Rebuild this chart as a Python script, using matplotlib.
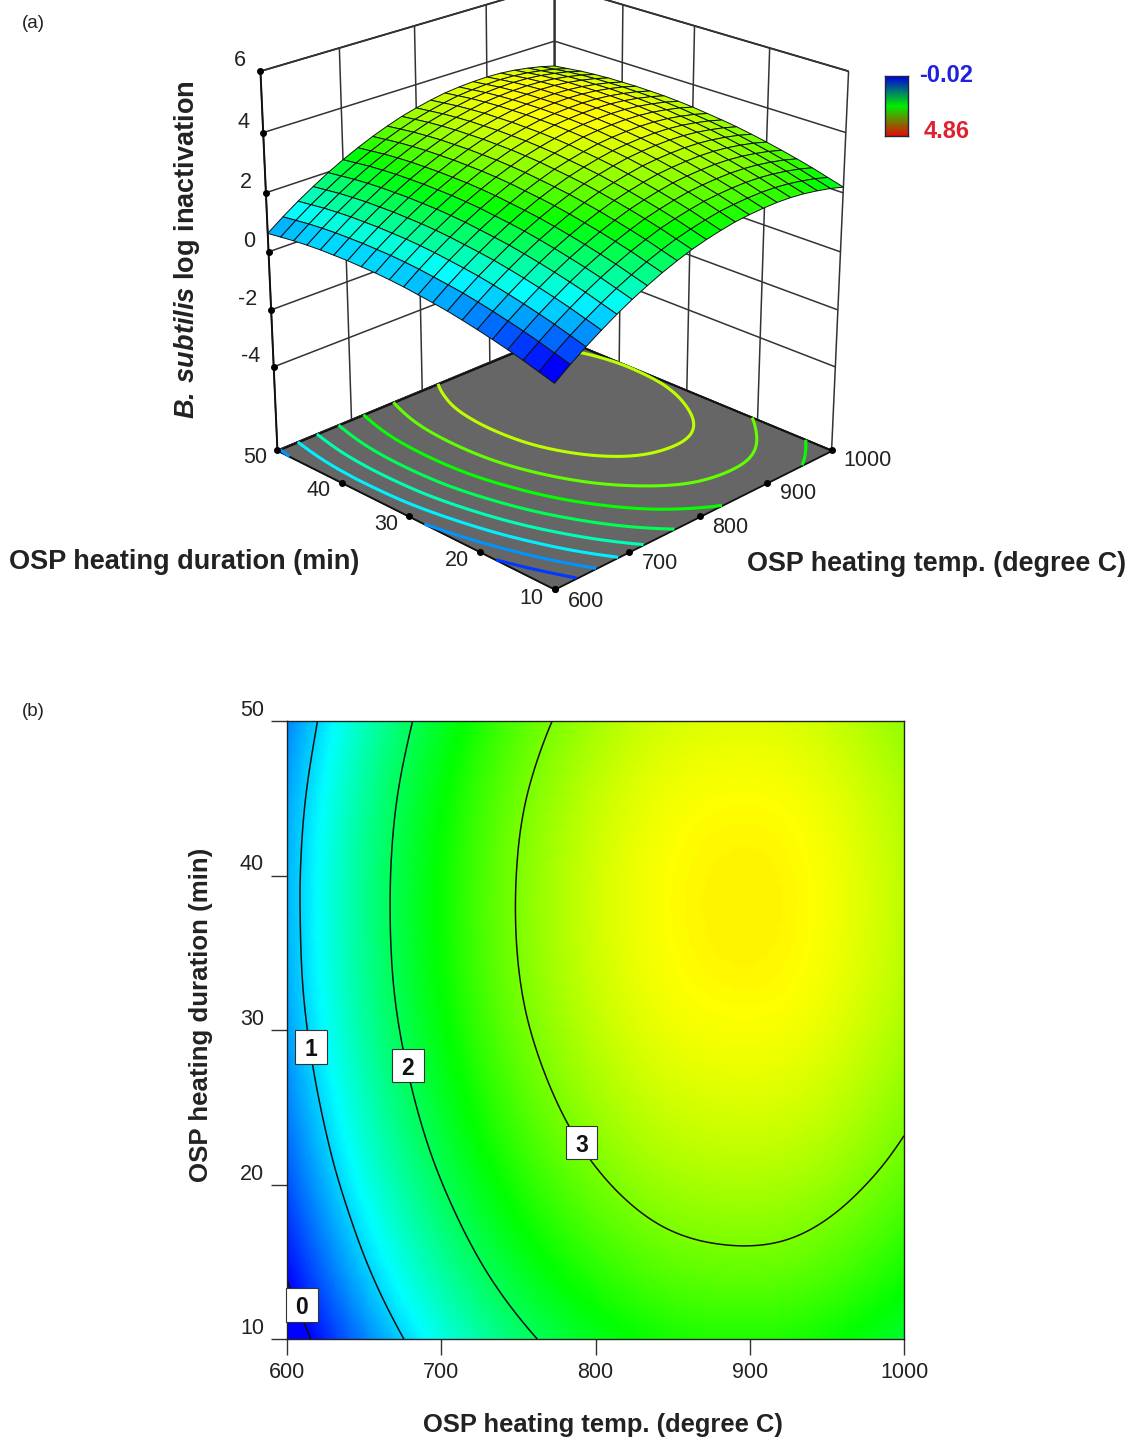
import numpy as np
import matplotlib
matplotlib.use("Agg")
import matplotlib.pyplot as plt
import matplotlib.tri as mtri
from matplotlib.colors import LinearSegmentedColormap, Normalize
from matplotlib.patches import Rectangle
from mpl_toolkits.mplot3d.art3d import Poly3DCollection

plt.rcParams['font.family'] = ['Liberation Sans', 'DejaVu Sans']
plt.rcParams['mathtext.fontset'] = 'custom'
plt.rcParams['mathtext.bfit'] = 'Liberation Sans:italic:bold'

temps = [600, 620, 640, 660, 680, 700, 720, 740, 760, 780, 800, 820, 840, 860, 880, 900, 920, 940, 960, 980, 1000]
durations = [10, 12, 14, 16, 18, 20, 22, 24, 26, 28, 30, 32, 34, 36, 38, 40, 42, 44, 46, 48, 50]
log_inactivation = [
    [-.29, .09, .44, .76, 1.06, 1.33, 1.57, 1.79, 1.98, 2.15, 2.28, 2.39, 2.48, 2.53, 2.56, 2.57, 2.55, 2.50, 2.42, 2.32, 2.19],
    [-.14, .24, .59, .91, 1.21, 1.48, 1.72, 1.94, 2.13, 2.30, 2.43, 2.54, 2.63, 2.68, 2.71, 2.72, 2.70, 2.65, 2.57, 2.47, 2.34],
    [.01, .39, .74, 1.06, 1.36, 1.63, 1.87, 2.09, 2.28, 2.45, 2.58, 2.69, 2.78, 2.83, 2.86, 2.87, 2.85, 2.80, 2.72, 2.62, 2.49],
    [.14, .52, .87, 1.19, 1.49, 1.76, 2.00, 2.22, 2.41, 2.58, 2.71, 2.82, 2.91, 2.96, 2.99, 3.00, 2.98, 2.93, 2.85, 2.75, 2.62],
    [.26, .64, .99, 1.31, 1.61, 1.88, 2.12, 2.34, 2.53, 2.70, 2.83, 2.94, 3.03, 3.08, 3.11, 3.12, 3.10, 3.05, 2.97, 2.87, 2.74],
    [.37, .75, 1.10, 1.42, 1.72, 1.99, 2.23, 2.45, 2.64, 2.81, 2.94, 3.05, 3.14, 3.19, 3.22, 3.23, 3.21, 3.16, 3.08, 2.98, 2.85],
    [.47, .85, 1.20, 1.52, 1.82, 2.09, 2.33, 2.55, 2.74, 2.91, 3.04, 3.15, 3.24, 3.29, 3.32, 3.33, 3.31, 3.26, 3.18, 3.08, 2.95],
    [.56, .94, 1.29, 1.61, 1.91, 2.18, 2.42, 2.64, 2.83, 3.00, 3.13, 3.24, 3.33, 3.38, 3.41, 3.42, 3.40, 3.35, 3.27, 3.17, 3.04],
    [.63, 1.01, 1.36, 1.68, 1.98, 2.25, 2.49, 2.71, 2.90, 3.07, 3.20, 3.31, 3.40, 3.45, 3.48, 3.49, 3.47, 3.42, 3.34, 3.24, 3.11],
    [.69, 1.07, 1.42, 1.74, 2.04, 2.31, 2.55, 2.77, 2.96, 3.13, 3.26, 3.37, 3.46, 3.51, 3.54, 3.55, 3.53, 3.48, 3.40, 3.30, 3.17],
    [.75, 1.13, 1.48, 1.80, 2.10, 2.37, 2.61, 2.83, 3.02, 3.19, 3.32, 3.43, 3.52, 3.57, 3.60, 3.61, 3.59, 3.54, 3.46, 3.36, 3.23],
    [.79, 1.17, 1.52, 1.84, 2.14, 2.41, 2.65, 2.87, 3.06, 3.23, 3.36, 3.47, 3.56, 3.61, 3.64, 3.65, 3.63, 3.58, 3.50, 3.40, 3.27],
    [.82, 1.20, 1.55, 1.87, 2.17, 2.44, 2.68, 2.90, 3.09, 3.26, 3.39, 3.50, 3.59, 3.64, 3.67, 3.68, 3.66, 3.61, 3.53, 3.43, 3.30],
    [.83, 1.21, 1.56, 1.88, 2.18, 2.45, 2.69, 2.91, 3.10, 3.27, 3.40, 3.51, 3.60, 3.65, 3.68, 3.69, 3.67, 3.62, 3.54, 3.44, 3.31],
    [.84, 1.22, 1.57, 1.89, 2.19, 2.46, 2.70, 2.92, 3.11, 3.28, 3.41, 3.52, 3.61, 3.66, 3.69, 3.70, 3.68, 3.63, 3.55, 3.45, 3.32],
    [.83, 1.21, 1.56, 1.88, 2.18, 2.45, 2.69, 2.91, 3.10, 3.27, 3.40, 3.51, 3.60, 3.65, 3.68, 3.69, 3.67, 3.62, 3.54, 3.44, 3.31],
    [.82, 1.20, 1.55, 1.87, 2.17, 2.44, 2.68, 2.90, 3.09, 3.26, 3.39, 3.50, 3.59, 3.64, 3.67, 3.68, 3.66, 3.61, 3.53, 3.43, 3.30],
    [.79, 1.17, 1.52, 1.84, 2.14, 2.41, 2.65, 2.87, 3.06, 3.23, 3.36, 3.47, 3.56, 3.61, 3.64, 3.65, 3.63, 3.58, 3.50, 3.40, 3.27],
    [.75, 1.13, 1.48, 1.80, 2.10, 2.37, 2.61, 2.83, 3.02, 3.19, 3.32, 3.43, 3.52, 3.57, 3.60, 3.61, 3.59, 3.54, 3.46, 3.36, 3.23],
    [.69, 1.07, 1.42, 1.74, 2.04, 2.31, 2.55, 2.77, 2.96, 3.13, 3.26, 3.37, 3.46, 3.51, 3.54, 3.55, 3.53, 3.48, 3.40, 3.30, 3.17],
    [.63, 1.01, 1.36, 1.68, 1.98, 2.25, 2.49, 2.71, 2.90, 3.07, 3.20, 3.31, 3.40, 3.45, 3.48, 3.49, 3.47, 3.42, 3.34, 3.24, 3.11],
]
temp_ticks = [600, 700, 800, 900, 1000]
duration_ticks = [10, 20, 30, 40, 50]
z_ticks = [-4, -2, 0, 2, 4, 6]
floor_levels = [0.25, 0.69, 1.13, 1.57, 2.01, 2.45, 2.89, 3.33]
contour_levels = [0, 1, 2, 3]
label_values = ['0', '1', '2', '3']
label_temps = [609.7, 615.6, 678.4, 791]
label_durations = [12.2, 28.9, 27.7, 22.7]
scale_min, scale_max = -0.02, 4.86

W, H = 1134, 1437
fig = plt.figure(figsize=(W / 100, H / 100), dpi=100)
cmap = LinearSegmentedColormap.from_list('de', ['#0000ff', '#00ffff', '#00ff00', '#ffff00', '#ff0000'])
norm = Normalize(scale_min, scale_max)
T, D = np.meshgrid(temps, durations)
Z = np.array(log_inactivation)
tri_grid = mtri.Triangulation(T[::2, ::2].ravel().astype(float), D[::2, ::2].ravel().astype(float))
fine_tri, fine_z = mtri.UniformTriRefiner(tri_grid).refine_field(Z[::2, ::2].ravel(), subdiv=4)
ZFLOOR = -7
TXT = '#222222'

# ---------- (a) 3D surface
ax = fig.add_axes([41 / W, 1 - 780 / H, 1000 / W, 1000 / H], projection='3d')
ax.set_proj_type('persp', focal_length=0.5)
ax.view_init(elev=23, azim=-135)
ax.set_box_aspect((1, 1, 1.02), zoom=0.683)
ax.computed_zorder = False
ax.set_xlim(600, 1000)
ax.set_ylim(10, 50)
ax.set_zlim(ZFLOOR, 6)
ax.patch.set_alpha(0)
for a in (ax.xaxis, ax.yaxis, ax.zaxis):
    a.set_pane_color((1, 1, 1, 1))
    a.pane.set_edgecolor('#222222')
    a.pane.set_linewidth(1.3)
    a._axinfo['grid'].update(color='#333333', linewidth=1.1, linestyle='-')
    a._axinfo['tick'].update(inward_factor=0, outward_factor=0)
    a.line.set_color('#111111')
    a.line.set_linewidth(1.4)
ax.set_xticks(temp_ticks)
ax.set_yticks(duration_ticks)
ax.set_zticks(z_ticks)
ax.set_xticklabels([str(v) for v in temp_ticks], fontsize=15.5, color=TXT, ha='left', va='bottom')
ax.set_yticklabels([str(v) for v in duration_ticks], fontsize=15.5, color=TXT, ha='right', va='bottom')
ax.set_zticklabels([str(v) for v in z_ticks], fontsize=15.5, color=TXT, ha='right', va='bottom')
ax.tick_params(axis='x', pad=8)
ax.tick_params(axis='y', pad=6)
ax.tick_params(axis='z', pad=1)

corners = [[(600, 10, ZFLOOR), (1000, 10, ZFLOOR), (1000, 50, ZFLOOR), (600, 50, ZFLOOR)]]
ax.add_collection3d(Poly3DCollection(corners, facecolor='#666666', edgecolor='#111111', linewidth=1.3, zorder=1))
ax.tricontour(fine_tri, fine_z, levels=floor_levels, zdir='z', offset=ZFLOOR, cmap=cmap, norm=norm, linewidths=2.2, zorder=2)
ax.plot(temp_ticks, [10] * 5, [ZFLOOR] * 5, 'o', color='k', ms=4, zorder=3)
ax.plot([600] * 5, duration_ticks, [ZFLOOR] * 5, 'o', color='k', ms=4, zorder=3)
ax.plot([600] * 6, [50] * 6, z_ticks, 'o', color='k', ms=4, zorder=3)
centre = (Z[:-1, :-1] + Z[1:, :-1] + Z[:-1, 1:] + Z[1:, 1:]) / 4
ax.plot_surface(T, D, Z, rstride=1, cstride=1, facecolors=cmap(norm(centre)), edgecolor='#111111',
                linewidth=0.7, shade=False, antialiased=True, zorder=4)

fig.text(9 / W, 1 - 562 / H, 'OSP heating duration (min)', fontsize=19.5, fontweight='bold', color=TXT, ha='left', va='center')
fig.text(747 / W, 1 - 564 / H, 'OSP heating temp. (degree C)', fontsize=19.4, fontweight='bold', color=TXT, ha='left', va='center')
fig.text(187 / W, 1 - 250 / H, r'$\mathbfit{B.\,subtilis}$ log inactivation', fontsize=19.5, fontweight='bold', color=TXT,
         rotation=90, ha='center', va='center')
fig.text(22 / W, 1 - 23 / H, '(a)', fontsize=13.5, color=TXT, ha='left', va='center')
fig.text(22 / W, 1 - 711 / H, '(b)', fontsize=13.5, color=TXT, ha='left', va='center')

# colour key
cax = fig.add_axes([885 / W, 1 - 136 / H, 23 / W, 60 / H])
key = LinearSegmentedColormap.from_list('key', ['#0000e0', '#00ee00', '#e01000'])
cax.imshow(np.linspace(0, 1, 64)[:, None], cmap=key, aspect='auto')
cax.set_xticks([])
cax.set_yticks([])
for s in cax.spines.values():
    s.set_linewidth(1)
    s.set_color('#222244')
fig.text(946 / W, 1 - 76 / H, f'{scale_min:.2f}', color='#2020e0', fontsize=17, fontweight='bold', ha='center', va='center')
fig.text(947 / W, 1 - 131 / H, f'{scale_max:.2f}', color='#e02030', fontsize=17, fontweight='bold', ha='center', va='center')

# ---------- (b) contour map
bx = fig.add_axes([287 / W, 1 - 1339 / H, 617 / W, 618 / H])
bx.tripcolor(fine_tri, fine_z, cmap=cmap, norm=norm, shading='gouraud', rasterized=True)
bx.tricontour(fine_tri, fine_z, levels=contour_levels, colors='#111111', linewidths=1.1)
box_w, box_h = 20.5, 2.15
for txt, x, y in zip(label_values, label_temps, label_durations):
    bx.add_patch(Rectangle((x - box_w / 2, y - box_h / 2), box_w, box_h, facecolor='white', edgecolor='#333333',
                           linewidth=0.8, zorder=4, clip_on=False))
    bx.text(x, y, txt, fontsize=16.5, fontweight='bold', color='#111111', ha='center', va='center_baseline', zorder=5)
bx.set_xlim(600, 1000)
bx.set_ylim(10, 50)
bx.set_xticks(temp_ticks)
bx.set_yticks(duration_ticks)
bx.tick_params(length=11.5, width=1, color='#333333', labelsize=15.5, labelcolor=TXT, pad=5)
for lab in bx.get_yticklabels():
    lab.set_va('bottom')
for s in bx.spines.values():
    s.set_linewidth(1)
    s.set_color('#222222')
fig.text(603 / W, 1 - 1425 / H, 'OSP heating temp. (degree C)', fontsize=18.4, fontweight='bold', color=TXT, ha='center', va='center')
fig.text(201 / W, 1 - 1015 / H, 'OSP heating duration (min)', fontsize=18.6, fontweight='bold', color=TXT, rotation=90, ha='center', va='center')

fig.savefig('out.png', dpi=100)
